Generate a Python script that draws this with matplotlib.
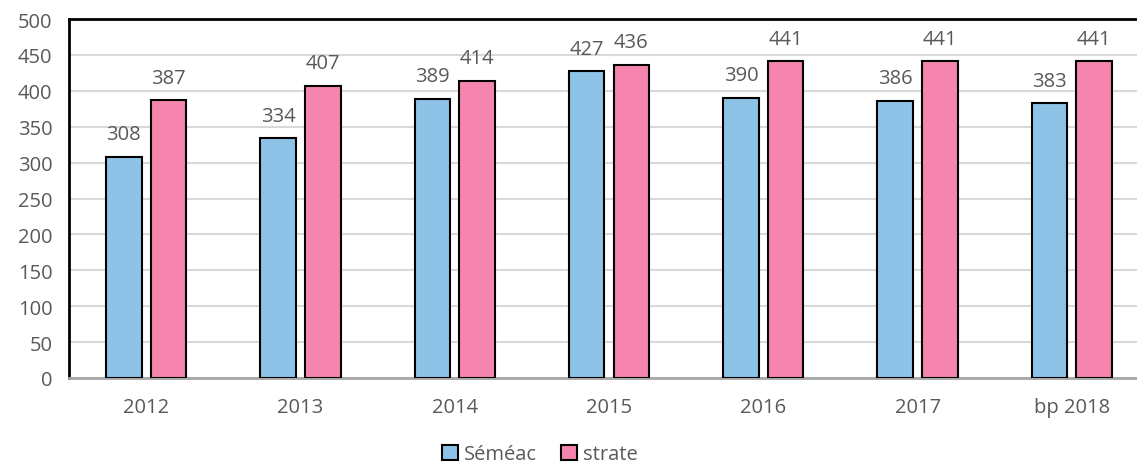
import numpy as np
import matplotlib.pyplot as plt

plt.rcParams['font.family'] = ['Open Sans', 'DejaVu Sans']

categories = ['2012', '2013', '2014', '2015', '2016', '2017', 'bp 2018']
semeac = [308, 334, 389, 427, 390, 386, 383]
strate = [387, 407, 414, 436, 441, 441, 441]

fig = plt.figure(figsize=(11.37, 4.64), dpi=100)
ax = fig.add_axes([69/1137, 1 - 379/464, 1080/1137, 359/464])

x = np.arange(len(categories))
w = 0.23
off = 0.145
b1 = ax.bar(x - off, semeac, w, color='#8cc3e6', edgecolor='black', linewidth=1.5, label='Séméac', zorder=3)
b2 = ax.bar(x + off, strate, w, color='#f585ae', edgecolor='black', linewidth=1.5, label='strate', zorder=3)

for bars, vals in ((b1, semeac), (b2, strate)):
    for r, v in zip(bars, vals):
        ax.annotate(str(v), (r.get_x() + r.get_width()/2, v), xytext=(0, 9),
                    textcoords='offset points', ha='center', va='bottom',
                    fontsize=14.5, color='#595959')

ax.set_xlim(-0.5, len(categories) - 0.5)
ax.set_ylim(0, 500)
ax.set_yticks(range(0, 501, 50))
ax.set_xticks(x)
ax.set_xticklabels(categories)
ax.tick_params(axis='both', length=0, labelsize=14.5, labelcolor='#595959')
ax.tick_params(axis='x', pad=14)
ax.tick_params(axis='y', pad=12)
ax.grid(axis='y', color='#d9d9d9', linewidth=1.5, zorder=0)

for s in ('left', 'top', 'right'):
    ax.spines[s].set_color('black')
    ax.spines[s].set_linewidth(2)
ax.spines['bottom'].set_color('#a6a6a6')
ax.spines['bottom'].set_linewidth(2)

fig.legend(*ax.get_legend_handles_labels(), loc='lower center', bbox_to_anchor=(540/1137, -0.042),
           ncol=2, frameon=False, fontsize=14.5, labelcolor='#595959', handlelength=0.8,
           handleheight=0.8, handletextpad=0.3, columnspacing=1.2)

fig.savefig('out.png', dpi=100)
